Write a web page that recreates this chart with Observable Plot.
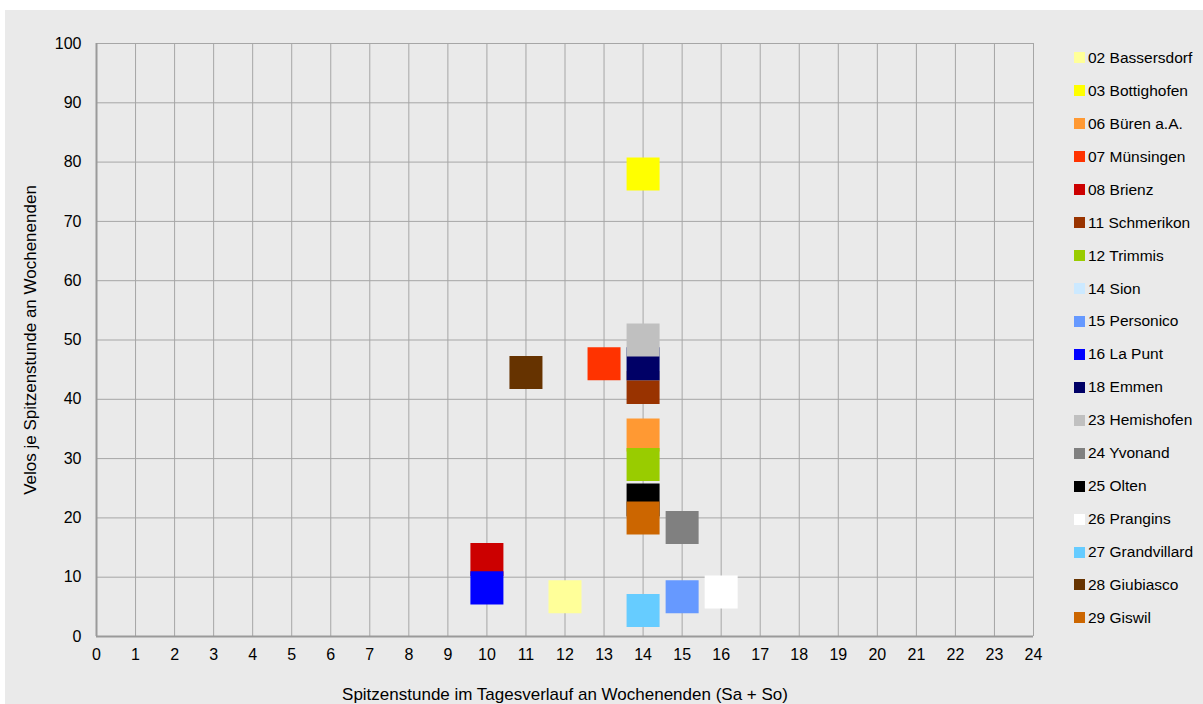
<!DOCTYPE html>
<html>
<head>
<meta charset="utf-8">
<script src="https://cdn.jsdelivr.net/npm/d3@7"></script>
<script src="https://cdn.jsdelivr.net/npm/@observablehq/plot@0.6"></script>
<style>
  html, body { margin: 0; padding: 0; background: #ffffff; }
  #bg { position: absolute; left: 5px; top: 10px; width: 1198px; height: 694px; background: #eaeaea; }
  #chart { position: absolute; left: 0; top: 0; }
  #legend { position: absolute; left: 1074px; top: 41.5px; font-family: "Liberation Sans", Arial, sans-serif; font-size: 15.5px; color: #000; }
  .row { height: 32.94px; display: flex; align-items: center; white-space: nowrap; }
  .sw { width: 11px; height: 11px; margin-right: 3px; flex: none; }
</style>
</head>
<body>
<div id="bg"></div>
<div id="chart"></div>
<div id="legend"></div>
<script>
const stations = ["02 Bassersdorf","03 Bottighofen","06 Büren a.A.","07 Münsingen","08 Brienz","11 Schmerikon","12 Trimmis","14 Sion","15 Personico","16 La Punt","18 Emmen","23 Hemishofen","24 Yvonand","25 Olten","26 Prangins","27 Grandvillard","28 Giubiasco","29 Giswil"];
const colors = ["#ffff99","#ffff00","#ff9933","#ff3300","#cc0000","#993300","#99cc00","#cce9ff","#6699ff","#0000ff","#000066","#c0c0c0","#808080","#000000","#ffffff","#66ccff","#663300","#cc6600"];
const peakHour = [12,14,14,13,10,14,14,14,15,10,14,14,15,14,16,14,11,14];
const velos = [6.7,78,34,46,13,42,29,46,6.7,8.2,46,50,18.4,23,7.5,4.4,44.5,20];
const xTicks = d3.range(0, 25);
const yTicks = d3.range(0, 101, 10);
const xTitle = "Spitzenstunde im Tagesverlauf an Wochenenden (Sa + So)";
const yTitle = "Velos je Spitzenstunde an Wochenenden";

const data = stations.map((s, i) => ({station: s, color: colors[i], x: peakHour[i], y: velos[i]}));

const chart = Plot.plot({
  width: 1203,
  height: 704,
  marginLeft: 96,
  marginRight: 170,
  marginTop: 43,
  marginBottom: 68,
  style: {background: "transparent", fontFamily: "'Liberation Sans', Arial, sans-serif", fontSize: "16px", color: "#000"},
  x: {domain: [0, 24]},
  y: {domain: [0, 100]},
  marks: [
    Plot.gridX(xTicks, {stroke: "#a6a6a6", strokeOpacity: 1, strokeWidth: 1}),
    Plot.gridY(yTicks, {stroke: "#a6a6a6", strokeOpacity: 1, strokeWidth: 1}),
    Plot.ruleX([0], {stroke: "#9a9a9a", strokeWidth: 2}),
    Plot.ruleY([0], {stroke: "#9a9a9a", strokeWidth: 2}),
    Plot.axisX({ticks: xTicks, tickSize: 0, tickPadding: 12, fontSize: 16, label: null}),
    Plot.axisX({ticks: [], tickSize: 0, label: xTitle, labelAnchor: "center", labelArrow: "none", labelOffset: 63, fontSize: 17}),
    Plot.axisY({ticks: yTicks, tickSize: 0, tickPadding: 15, fontSize: 16, label: null}),
    Plot.axisY({ticks: [], tickSize: 0, label: yTitle, labelAnchor: "center", labelArrow: "none", labelOffset: 73, fontSize: 17}),
    Plot.dot(data, {x: "x", y: "y", symbol: "square", r: 18.62, fill: "color", stroke: "none"})
  ]
});
document.getElementById("chart").appendChild(chart);

const legend = document.getElementById("legend");
stations.forEach((s, i) => {
  const row = document.createElement("div");
  row.className = "row";
  const sw = document.createElement("span");
  sw.className = "sw";
  sw.style.background = colors[i];
  const t = document.createElement("span");
  t.textContent = s;
  row.appendChild(sw);
  row.appendChild(t);
  legend.appendChild(row);
});
</script>
</body>
</html>
